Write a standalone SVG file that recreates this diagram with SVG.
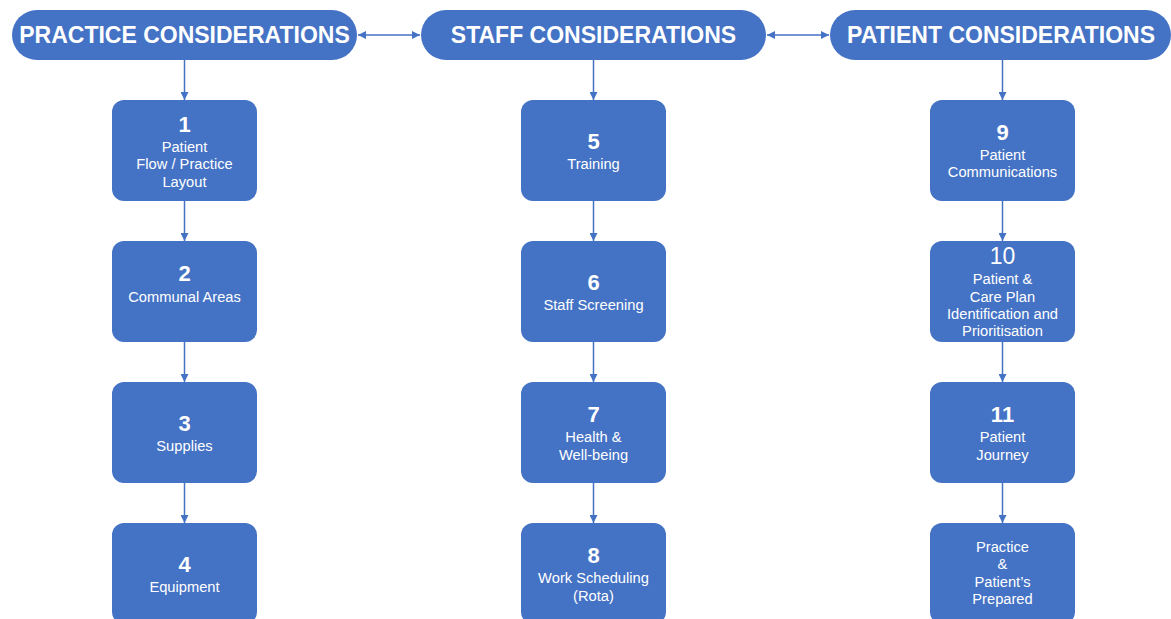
<svg xmlns="http://www.w3.org/2000/svg" width="1171" height="619" viewBox="0 0 1171 619">
<style>
.hdr{fill:#4472C4}
.box{fill:#4472C4}
.ht{font-family:"Liberation Sans",Arial,sans-serif;font-weight:bold;font-size:23px;fill:#fff;text-anchor:middle}
.num{font-family:"Liberation Sans",Arial,sans-serif;font-weight:bold;font-size:22px;fill:#fff;text-anchor:middle}
.num2{font-family:"Liberation Sans",Arial,sans-serif;font-size:23px;fill:#fff;text-anchor:middle}
.lb{font-family:"Liberation Sans",Arial,sans-serif;font-size:14.7px;fill:#fff;text-anchor:middle}
.con{stroke:#4472C4;stroke-width:1.5;fill:none}
</style>
<defs>
<marker id="ah" viewBox="0 0 10 10" refX="10" refY="5" markerWidth="8" markerHeight="8" orient="auto-start-reverse" markerUnits="userSpaceOnUse">
<path d="M0,0 L10,5 L0,10 z" fill="#4472C4"/>
</marker>
</defs>
<rect width="1171" height="619" fill="#fff"/>
<g id="connectors">
<line class="con" x1="358" y1="35" x2="420" y2="35" marker-start="url(#ah)" marker-end="url(#ah)"/>
<line class="con" x1="767" y1="35" x2="829" y2="35" marker-start="url(#ah)" marker-end="url(#ah)"/>
<line class="con" x1="184.5" y1="60" x2="184.5" y2="100" marker-end="url(#ah)"/>
<line class="con" x1="184.5" y1="201" x2="184.5" y2="241" marker-end="url(#ah)"/>
<line class="con" x1="184.5" y1="342" x2="184.5" y2="382" marker-end="url(#ah)"/>
<line class="con" x1="184.5" y1="483" x2="184.5" y2="523" marker-end="url(#ah)"/>
<line class="con" x1="593.5" y1="60" x2="593.5" y2="100" marker-end="url(#ah)"/>
<line class="con" x1="593.5" y1="201" x2="593.5" y2="241" marker-end="url(#ah)"/>
<line class="con" x1="593.5" y1="342" x2="593.5" y2="382" marker-end="url(#ah)"/>
<line class="con" x1="593.5" y1="483" x2="593.5" y2="523" marker-end="url(#ah)"/>
<line class="con" x1="1002.5" y1="60" x2="1002.5" y2="100" marker-end="url(#ah)"/>
<line class="con" x1="1002.5" y1="201" x2="1002.5" y2="241" marker-end="url(#ah)"/>
<line class="con" x1="1002.5" y1="342" x2="1002.5" y2="382" marker-end="url(#ah)"/>
<line class="con" x1="1002.5" y1="483" x2="1002.5" y2="523" marker-end="url(#ah)"/>
</g>
<g id="hdr-practice"><rect class="hdr" x="12" y="10" width="345" height="50" rx="25"/><text class="ht" x="184.5" y="43">PRACTICE CONSIDERATIONS</text></g>
<g id="hdr-staff"><rect class="hdr" x="421" y="10" width="345" height="50" rx="25"/><text class="ht" x="593.5" y="43">STAFF CONSIDERATIONS</text></g>
<g id="hdr-patient"><rect class="hdr" x="830" y="10" width="341" height="50" rx="25"/><text class="ht" x="1001" y="43">PATIENT CONSIDERATIONS</text></g>

<g id="n1"><rect class="box" x="112" y="100" width="145" height="101" rx="12"/><text class="num" x="184.5" y="132">1</text><text class="lb" x="184.5" y="152">Patient</text><text class="lb" x="184.5" y="169">Flow / Practice</text><text class="lb" x="184.5" y="187">Layout</text></g>
<g id="n2"><rect class="box" x="112" y="241" width="145" height="101" rx="12"/><text class="num" x="184.5" y="281">2</text><text class="lb" x="184.5" y="302">Communal Areas</text></g>
<g id="n3"><rect class="box" x="112" y="382" width="145" height="101" rx="12"/><text class="num" x="184.5" y="431">3</text><text class="lb" x="184.5" y="451">Supplies</text></g>
<g id="n4"><rect class="box" x="112" y="523" width="145" height="101" rx="12"/><text class="num" x="184.5" y="572">4</text><text class="lb" x="184.5" y="592">Equipment</text></g>

<g id="n5"><rect class="box" x="521" y="100" width="145" height="101" rx="12"/><text class="num" x="593.5" y="149">5</text><text class="lb" x="593.5" y="169">Training</text></g>
<g id="n6"><rect class="box" x="521" y="241" width="145" height="101" rx="12"/><text class="num" x="593.5" y="290">6</text><text class="lb" x="593.5" y="310">Staff Screening</text></g>
<g id="n7"><rect class="box" x="521" y="382" width="145" height="101" rx="12"/><text class="num" x="593.5" y="422">7</text><text class="lb" x="593.5" y="442">Health &amp;</text><text class="lb" x="593.5" y="460">Well-being</text></g>
<g id="n8"><rect class="box" x="521" y="523" width="145" height="101" rx="12"/><text class="num" x="593.5" y="563">8</text><text class="lb" x="593.5" y="583">Work Scheduling</text><text class="lb" x="593.5" y="601">(Rota)</text></g>

<g id="n9"><rect class="box" x="930" y="100" width="145" height="101" rx="12"/><text class="num" x="1002.5" y="140">9</text><text class="lb" x="1002.5" y="160">Patient</text><text class="lb" x="1002.5" y="177">Communications</text></g>
<g id="n10"><rect class="box" x="930" y="241" width="145" height="101" rx="12"/><text class="num2" x="1002.5" y="264">10</text><text class="lb" x="1002.5" y="284">Patient &amp;</text><text class="lb" x="1002.5" y="302">Care Plan</text><text class="lb" x="1002.5" y="319">Identification and</text><text class="lb" x="1002.5" y="336">Prioritisation</text></g>
<g id="n11"><rect class="box" x="930" y="382" width="145" height="101" rx="12"/><text class="num" x="1002.5" y="422">11</text><text class="lb" x="1002.5" y="442">Patient</text><text class="lb" x="1002.5" y="460">Journey</text></g>
<g id="n12"><rect class="box" x="930" y="523" width="145" height="101" rx="12"/><text class="lb" x="1002.5" y="552">Practice</text><text class="lb" x="1002.5" y="569">&amp;</text><text class="lb" x="1002.5" y="587">Patient’s</text><text class="lb" x="1002.5" y="604">Prepared</text></g>
</svg>
